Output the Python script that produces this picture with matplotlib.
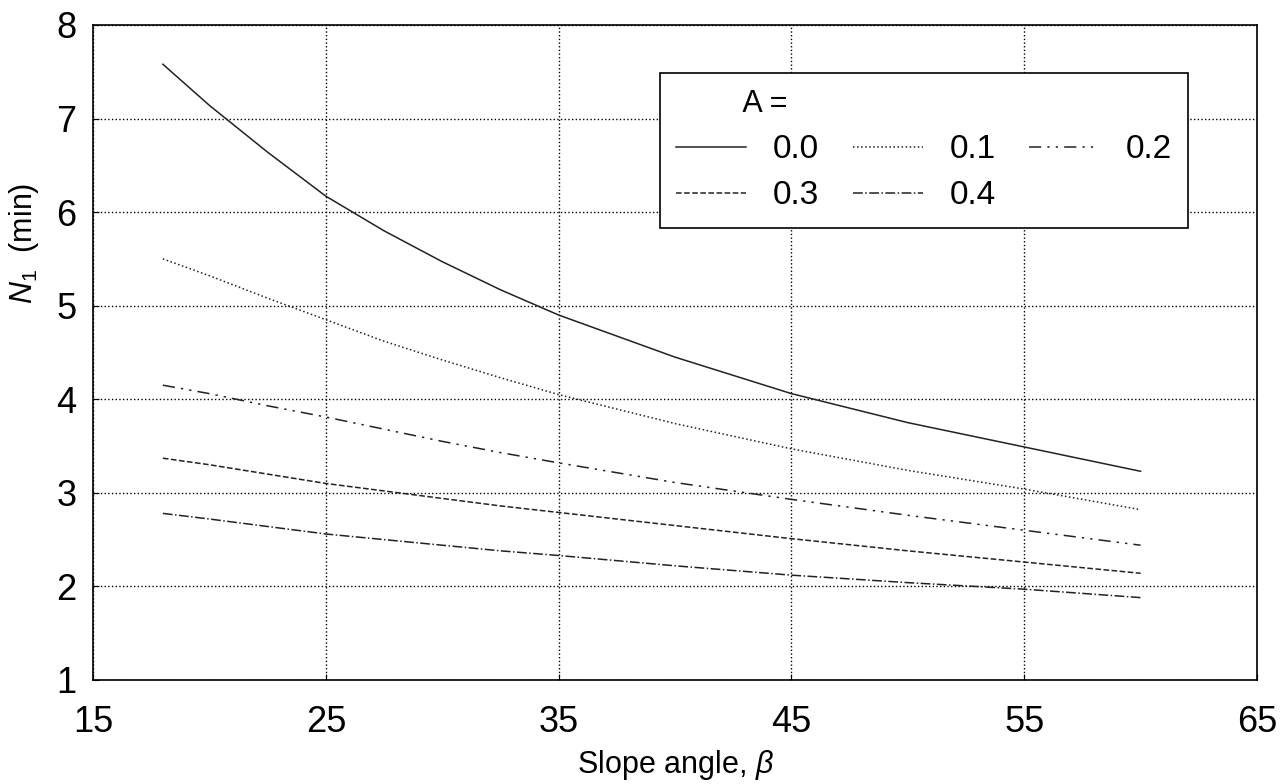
import matplotlib
matplotlib.use("Agg")
import matplotlib.pyplot as plt

plt.rcParams['font.family'] = ['Liberation Sans', 'DejaVu Sans']
plt.rcParams['mathtext.fontset'] = 'custom'
plt.rcParams['mathtext.rm'] = 'Liberation Sans'
plt.rcParams['mathtext.it'] = 'Liberation Sans:italic'

# slope angle (deg) and N1 for each A value
beta = [18, 20, 22.5, 25, 27.5, 30, 32.5, 35, 40, 45, 50, 55, 60]
n1_a00 = [7.58, 7.14, 6.64, 6.17, 5.80, 5.47, 5.17, 4.90, 4.45, 4.06, 3.75, 3.49, 3.23]
n1_a01 = [5.50, 5.32, 5.08, 4.85, 4.62, 4.42, 4.23, 4.05, 3.74, 3.47, 3.24, 3.04, 2.82]
n1_a02 = [4.15, 4.06, 3.93, 3.81, 3.68, 3.55, 3.43, 3.32, 3.11, 2.93, 2.76, 2.60, 2.44]
n1_a03 = [3.37, 3.30, 3.20, 3.10, 3.02, 2.94, 2.86, 2.79, 2.65, 2.51, 2.38, 2.26, 2.14]
n1_a04 = [2.78, 2.72, 2.64, 2.56, 2.50, 2.44, 2.38, 2.33, 2.22, 2.12, 2.04, 1.97, 1.88]
a_labels = ['0.0', '0.1', '0.2', '0.3', '0.4']
x_ticks = [15, 25, 35, 45, 55, 65]
y_ticks = [1, 2, 3, 4, 5, 6, 7, 8]

styles = ['-', ':', (0, (8, 4, 1.5, 4, 1.5, 4)), '--', '-.']

fig = plt.figure(figsize=(12.85, 7.84), dpi=100)
ax = fig.add_axes([0.0724, 0.1327, 0.9058, 0.8355])

lines = []
for ys, ls, lab in zip([n1_a00, n1_a01, n1_a02, n1_a03, n1_a04], styles, a_labels):
    ln, = ax.plot(beta, ys, color='#222222', linestyle=ls, linewidth=1.1, label=lab)
    lines.append(ln)

ax.set_xlim(15, 65)
ax.set_ylim(1, 8)
ax.set_xticks(x_ticks)
ax.set_yticks(y_ticks)
ax.grid(True, color='black', linestyle=':', linewidth=1.0)
ax.tick_params(direction='in', length=4, labelsize=26)
ax.tick_params(axis='x', pad=18)
ax.tick_params(axis='y', pad=12)
for sp in ax.spines.values():
    sp.set_linewidth(1.2)

ax.set_xlabel(r'Slope angle, $\beta$', fontsize=22, labelpad=6)
ax.set_ylabel(r'$N_1$  (min)', fontsize=22)
ax.yaxis.set_label_coords(-0.045, 0.667)

# row-wise legend order: 0.0 0.1 0.2 / 0.3 0.4
order = [0, 3, 1, 4, 2]
leg = ax.legend([lines[i] for i in order], [a_labels[i] for i in order],
                ncol=3, loc='upper right', bbox_to_anchor=(0.941, 0.927),
                borderaxespad=0.0,
                title='        A =', fontsize=24, title_fontsize=22,
                handlelength=2.1, handletextpad=0.8, columnspacing=1.0,
                labelspacing=0.45, borderpad=0.5, fancybox=False,
                edgecolor='black', framealpha=1.0)
leg._legend_box.align = 'left'
leg.get_frame().set_linewidth(1.2)

fig.savefig('out.png', dpi=100)
